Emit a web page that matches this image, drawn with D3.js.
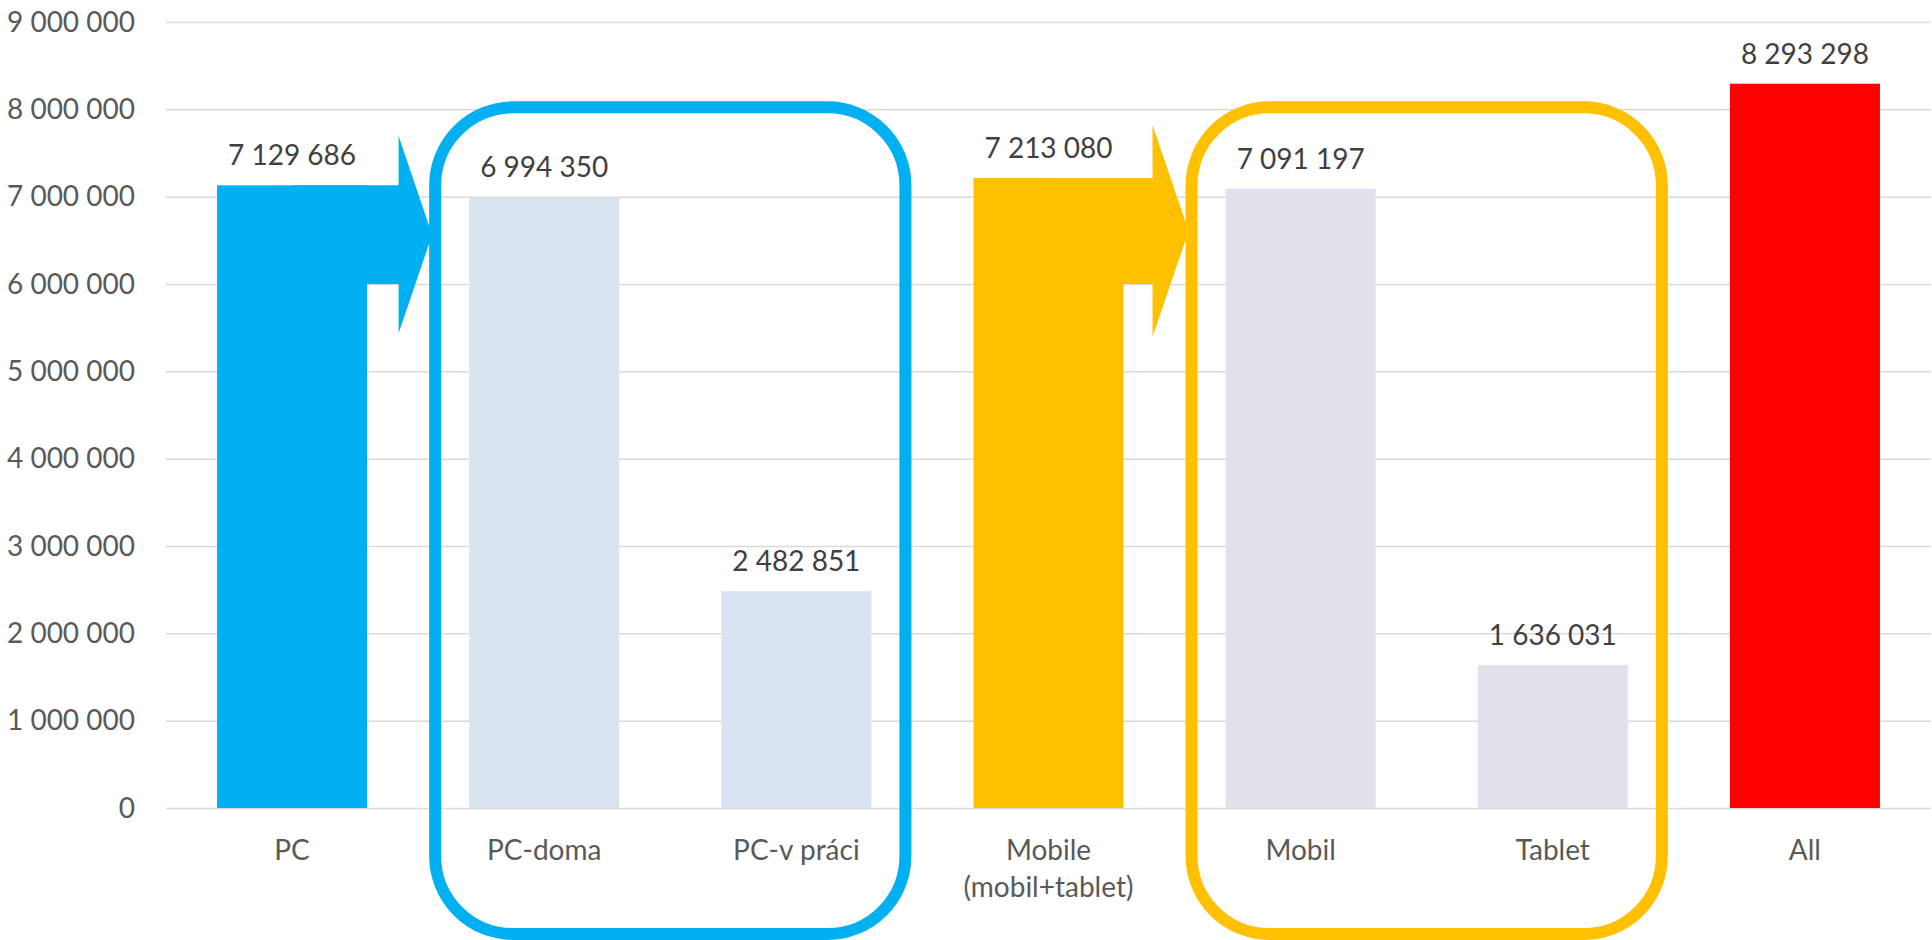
<!DOCTYPE html>
<html lang="cs">
<style>
body { margin: 0; background: #fff; }
.grid line { stroke: #d9d9d9; stroke-width: 1.5px; }
.tick-label { font: 28px Lato, sans-serif; fill: #595959; }
.value-label { font: 28px Lato, sans-serif; fill: #404040; }
</style>
<head>
    <title>PC vs mobile</title>
    <script src="https://d3js.org/d3.v7.min.js"></script>
</head>
<body>
<div id="main"></div>
<script type="text/javascript">
    // chart data
    const categories = ['PC', 'PC-doma', 'PC-v práci', 'Mobile\n(mobil+tablet)', 'Mobil', 'Tablet', 'All'];
    const values = [7129686, 6994350, 2482851, 7213080, 7091197, 1636031, 8293298];
    const barColors = ['#00b0f0', '#dae3f0', '#dae3f0', '#ffc000', '#e3dfeb', '#e3dfeb', '#ff0000'];
    const yTicks = [0, 1000000, 2000000, 3000000, 4000000, 5000000, 6000000, 7000000, 8000000, 9000000];

    // groups framed by a rounded box, with an arrow coming from the total bar
    const groupFrom = ['PC', 'Mobile\n(mobil+tablet)'];
    const groupMembers = [['PC-doma', 'PC-v práci'], ['Mobil', 'Tablet']];
    const groupColors = ['#00b0f0', '#ffc000'];
    const arrowFloor = 6000000;

    const width = 1932;
    const height = 940;
    const plotLeft = 166;
    const plotRight = 1931;
    const plotTop = 22;
    const plotBottom = 808;

    const fmt = v => d3.format(',')(v).replace(/,/g, ' ');

    const svg = d3.select('#main')
        .append('svg')
        .attr('width', width)
        .attr('height', height);

    const xScale = d3.scaleBand()
        .domain(categories)
        .range([plotLeft, plotRight])
        .paddingInner(0.405)
        .paddingOuter(0.2025);

    const yScale = d3.scaleLinear()
        .domain([0, 9000000])
        .range([plotBottom, plotTop]);

    // gridlines
    const yAxis = d3.axisLeft(yScale)
        .tickValues(yTicks)
        .tickSize(-(plotRight - plotLeft))
        .tickFormat('');
    const grid = svg.append('g')
        .attr('class', 'grid')
        .attr('transform', `translate(${plotLeft}, 0)`)
        .call(yAxis);
    grid.select('.domain').remove();

    // y tick labels
    svg.append('g').selectAll('text')
        .data(yTicks)
        .enter()
        .append('text')
        .attr('class', 'tick-label')
        .attr('x', plotLeft - 31)
        .attr('y', d => yScale(d))
        .attr('dy', '0.35em')
        .attr('text-anchor', 'end')
        .text(d => fmt(d));

    // bars
    svg.append('g').selectAll('rect')
        .data(categories)
        .enter()
        .append('rect')
        .attr('x', d => xScale(d))
        .attr('y', (d, i) => yScale(values[i]))
        .attr('width', xScale.bandwidth())
        .attr('height', (d, i) => yScale(0) - yScale(values[i]))
        .attr('fill', (d, i) => barColors[i]);

    // value labels
    svg.append('g').selectAll('text')
        .data(categories)
        .enter()
        .append('text')
        .attr('class', 'value-label')
        .attr('x', d => xScale(d) + xScale.bandwidth() / 2)
        .attr('y', (d, i) => yScale(values[i]) - 20)
        .attr('text-anchor', 'middle')
        .text((d, i) => fmt(values[i]));

    // category labels
    const catLabels = svg.append('g').selectAll('text')
        .data(categories)
        .enter()
        .append('text')
        .attr('class', 'tick-label')
        .attr('x', d => xScale(d) + xScale.bandwidth() / 2)
        .attr('y', 860)
        .attr('text-anchor', 'middle');
    catLabels.each(function(d) {
        const el = d3.select(this);
        d.split('\n').forEach((line, j) => {
            el.append('tspan')
                .attr('x', xScale(d) + xScale.bandwidth() / 2)
                .attr('dy', j === 0 ? 0 : 37)
                .text(line);
        });
    });

    // arrows and rounded frames
    const step = xScale.step();
    const outer = (step - xScale.bandwidth()) / 2;
    groupMembers.forEach((members, g) => {
        const color = groupColors[g];
        const boxLeft = xScale(members[0]) - outer + 17;
        const boxRight = xScale(members[members.length - 1]) + xScale.bandwidth() + outer - 17;
        const boxTop = yScale(8000000) - 2;
        const boxBottom = height - 6;

        const src = groupFrom[g];
        const srcValue = values[categories.indexOf(src)];
        const bodyTop = yScale(srcValue);
        const bodyBottom = yScale(arrowFloor);
        const mid = (bodyTop + bodyBottom) / 2;
        const half = bodyBottom - bodyTop;
        const tipX = boxLeft - 3;
        const headX = tipX - half * 0.34;
        const startX = xScale(src) + xScale.bandwidth() / 2;

        const pts = [
            [startX, bodyTop], [headX, bodyTop], [headX, mid - half],
            [tipX, mid], [headX, mid + half], [headX, bodyBottom], [startX, bodyBottom]
        ];
        svg.append('path')
            .attr('d', d3.line()(pts) + 'Z')
            .attr('fill', color);

        svg.append('rect')
            .attr('x', boxLeft)
            .attr('y', boxTop)
            .attr('width', boxRight - boxLeft)
            .attr('height', boxBottom - boxTop)
            .attr('rx', 78)
            .attr('ry', 78)
            .attr('fill', 'none')
            .attr('stroke', color)
            .attr('stroke-width', 12);
    });
</script>
</body>
</html>
